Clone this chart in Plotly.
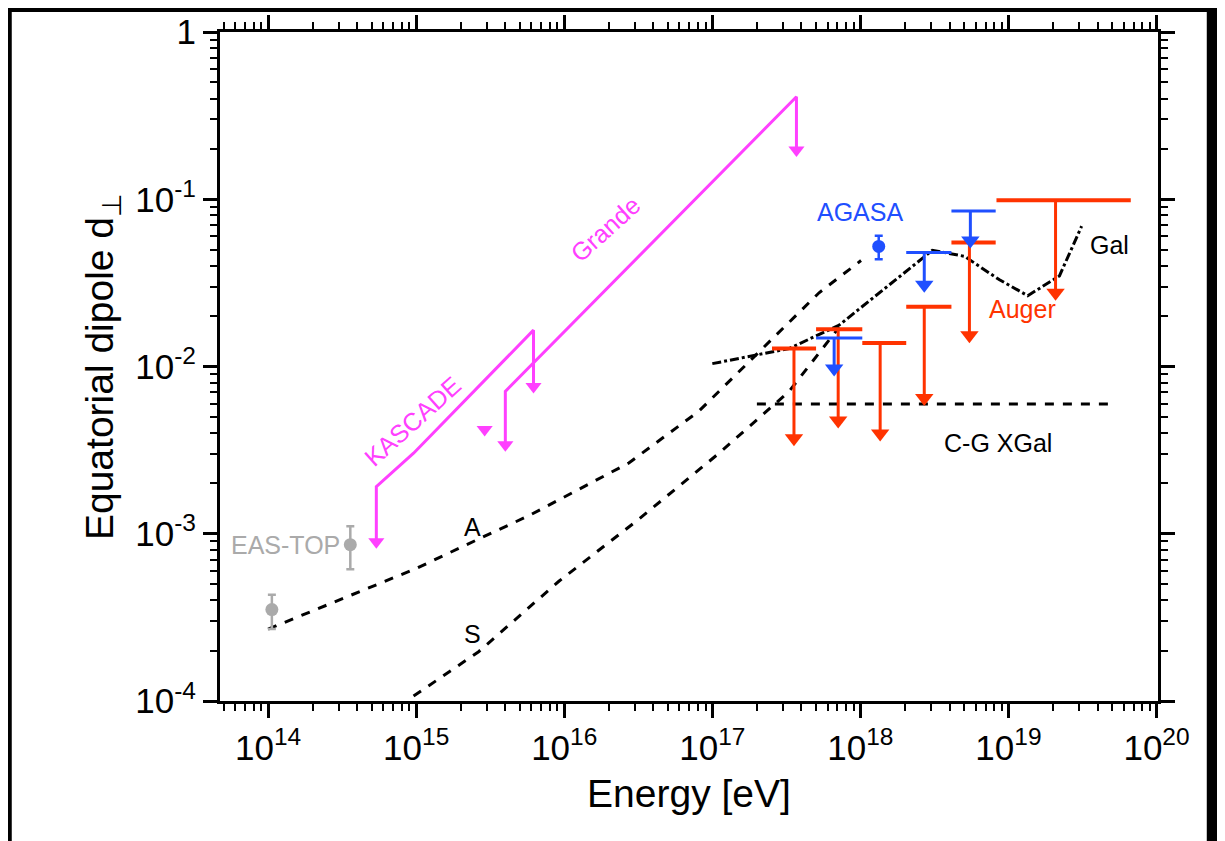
import math
import plotly.graph_objects as go

# dashed model curves (energy in eV, dipole amplitude)
a_e = [1e14, 2.98e14, 1e15, 2.64e15, 5.74e15, 1.25e16, 2.73e16, 8.1e16, 2.07e17, 5.26e17, 1.01e18]
a_d = [2.69e-4, 3.98e-4, 6.2e-4, 9.3e-4, 1.28e-3, 1.84e-3, 2.65e-3, 5.4e-3, 1.22e-2, 2.76e-2, 4.3e-2]
s_e = [9.6e14, 2.64e15, 9.2e15, 3.18e16, 1.11e17, 3.3e17, 7.2e17]
s_d = [1.07e-4, 1.97e-4, 5.2e-4, 1.22e-3, 3.03e-3, 7.1e-3, 1.72e-2]
gal_e = [1e17, 3.3e17, 7.2e17, 1.34e18, 3.06e18, 5.04e18, 8.7e18, 1.35e19, 2.21e19, 3.12e19]
gal_d = [1.04e-2, 1.28e-2, 1.77e-2, 2.76e-2, 4.95e-2, 4.56e-2, 3.3e-2, 2.65e-2, 3.48e-2, 6.9e-2]
xgal_e = [2.0e17, 5.2e19]
xgal_d = [5.97e-3, 5.97e-3]

# KASCADE / Grande upper-limit lines
kas_e = [5.38e14, 5.38e14, 9.6e14, 6.2e15, 6.2e15]
kas_d = [8.97e-4, 1.91e-3, 3.03e-3, 1.65e-2, 7.6e-3]
gra_e = [4.0e15, 4.0e15, 3.7e17, 3.7e17]
gra_d = [3.4e-3, 7.1e-3, 0.41, 0.197]
lone_e = [2.9e15]
lone_d = [4.2e-3]

# Auger upper limits: bar from lo to hi energy, arrow at mid energy
aug_lo = [2.53e17, 5.02e17, 1.03e18, 2.04e18, 4.12e18, 8.3e18]
aug_hi = [5.02e17, 1.03e18, 2.04e18, 4.12e18, 8.2e18, 6.7e19]
aug_mid = [3.56e17, 7.08e17, 1.36e18, 2.7e18, 5.45e18, 2.08e19]
aug_ul = [1.28e-2, 1.67e-2, 1.38e-2, 2.28e-2, 5.51e-2, 9.86e-2]
aug_tip = [3.72e-3, 4.75e-3, 3.98e-3, 6.48e-3, 1.54e-2, 2.76e-2]

# AGASA upper limits
ag_lo = [5.02e17, 2.04e18, 4.12e18]
ag_hi = [1.03e18, 4.12e18, 8.2e18]
ag_mid = [6.65e17, 2.7e18, 5.53e18]
ag_ul = [1.48e-2, 4.81e-2, 8.5e-2]
ag_tip = [9.73e-3, 3.08e-2, 5.66e-2]
ag_pt_e = [1.33e18]
ag_pt_d = [5.22e-2]
ag_pt_up = [6.06e-2 - 5.22e-2]
ag_pt_dn = [5.22e-2 - 4.38e-2]

# EAS-TOP points
eas_e = [1.06e14, 3.59e14]
eas_d = [3.52e-4, 8.6e-4]
eas_up = [4.32e-4 - 3.52e-4, 1.11e-3 - 8.6e-4]
eas_dn = [3.52e-4 - 2.69e-4, 8.6e-4 - 6.14e-4]

MAG = '#ff40ff'
RED = '#ff3300'
BLUE = '#1f4fff'
GRAY = '#aaaaaa'

fig = go.Figure()


def line(x, y, color, dash='solid', width=3):
    fig.add_trace(go.Scatter(x=x, y=y, mode='lines', line=dict(color=color, dash=dash, width=width),
                             showlegend=False, hoverinfo='skip'))


def arrowheads(x, y, color, size=14):
    fig.add_trace(go.Scatter(x=x, y=y, mode='markers', showlegend=False, hoverinfo='skip',
                             marker=dict(symbol='triangle-down', size=size, color=color)))


line(a_e, a_d, 'black', 'dash', 3)
line(s_e, s_d, 'black', 'dash', 3)
line(gal_e, gal_d, 'black', 'dashdot', 3)
line(xgal_e, xgal_d, 'black', 'dash', 3)

line(kas_e, kas_d, MAG)
arrowheads([kas_e[0], kas_e[-1]], [kas_d[0], kas_d[-1]], MAG)
line(gra_e, gra_d, MAG)
arrowheads([gra_e[0], gra_e[-1]], [gra_d[0], gra_d[-1]], MAG)
arrowheads(lone_e, lone_d, MAG)

for lo, hi, mid, ul, tip in zip(aug_lo, aug_hi, aug_mid, aug_ul, aug_tip):
    line([lo, hi], [ul, ul], RED, width=4)
    line([mid, mid], [ul, tip], RED)
arrowheads(aug_mid, aug_tip, RED, 16)

for lo, hi, mid, ul, tip in zip(ag_lo, ag_hi, ag_mid, ag_ul, ag_tip):
    line([lo, hi], [ul, ul], BLUE, width=3)
    line([mid, mid], [ul, tip], BLUE)
arrowheads(ag_mid, ag_tip, BLUE, 16)

fig.add_trace(go.Scatter(x=ag_pt_e, y=ag_pt_d, mode='markers', showlegend=False,
                         marker=dict(color=BLUE, size=13),
                         error_y=dict(type='data', symmetric=False, array=ag_pt_up, arrayminus=ag_pt_dn,
                                      color=BLUE, thickness=2.5, width=4)))
fig.add_trace(go.Scatter(x=eas_e, y=eas_d, mode='markers', showlegend=False,
                         marker=dict(color=GRAY, size=13),
                         error_y=dict(type='data', symmetric=False, array=eas_up, arrayminus=eas_dn,
                                      color=GRAY, thickness=2.5, width=4)))

labels = [
    ('KASCADE', 9.5e14, 4.7e-3, MAG, -42),
    ('Grande', 1.9e16, 6.6e-2, MAG, -42),
    ('AGASA', 1.0e18, 8.4e-2, BLUE, 0),
    ('Auger', 1.25e19, 2.2e-2, RED, 0),
    ('Gal', 4.8e19, 5.3e-2, 'black', 0),
    ('C-G XGal', 8.5e18, 3.5e-3, 'black', 0),
    ('A', 2.4e15, 1.1e-3, 'black', 0),
    ('S', 2.4e15, 2.5e-4, 'black', 0),
    ('EAS-TOP', 1.32e14, 8.6e-4, GRAY, 0),
]
for t, x, y, c, ang in labels:
    fig.add_annotation(x=math.log10(x), y=math.log10(y), text=t,
                       showarrow=False, textangle=ang, font=dict(size=25, color=c))

# white page with thin black frame at left, top and right
fig.add_shape(type='rect', xref='paper', yref='paper', x0=-0.222, x1=1.052, y0=-0.35, y1=1.03,
              fillcolor='white', line=dict(width=0), layer='below')

axis = dict(type='log', showgrid=False, zeroline=False, showline=True, linecolor='black', linewidth=3,
            ticks='outside', ticklen=14, tickwidth=2.5, tickcolor='black', mirror='allticks',
            minor=dict(ticks='outside', ticklen=7, tickwidth=2, tickcolor='black', dtick='D1'),
            tickfont=dict(size=35, color='black'))
xticks = [1e14, 1e15, 1e16, 1e17, 1e18, 1e19, 1e20]
yticks = [1e-4, 1e-3, 1e-2, 1e-1, 1]
fig.update_xaxes(**axis, range=[13.675, 20.01], tickvals=xticks,
                 ticktext=['10<sup>%d</sup>' % i for i in range(14, 21)],
                 title=dict(text='Energy [eV]', font=dict(size=39, color='black'), standoff=14))
fig.update_yaxes(**axis, range=[-4, 0], tickvals=yticks,
                 ticktext=['10<sup>-4</sup>', '10<sup>-3</sup>', '10<sup>-2</sup>', '10<sup>-1</sup>', '1'],
                 title=dict(text='Equatorial dipole d<sub>⊥</sub>', font=dict(size=39, color='black'), standoff=10))
fig.update_layout(width=1225, height=841, paper_bgcolor='black', plot_bgcolor='white',
                  margin=dict(l=212, r=75, t=4, b=148),
                  font=dict(family='Liberation Sans, Arial'))
fig.write_html('out.html')
